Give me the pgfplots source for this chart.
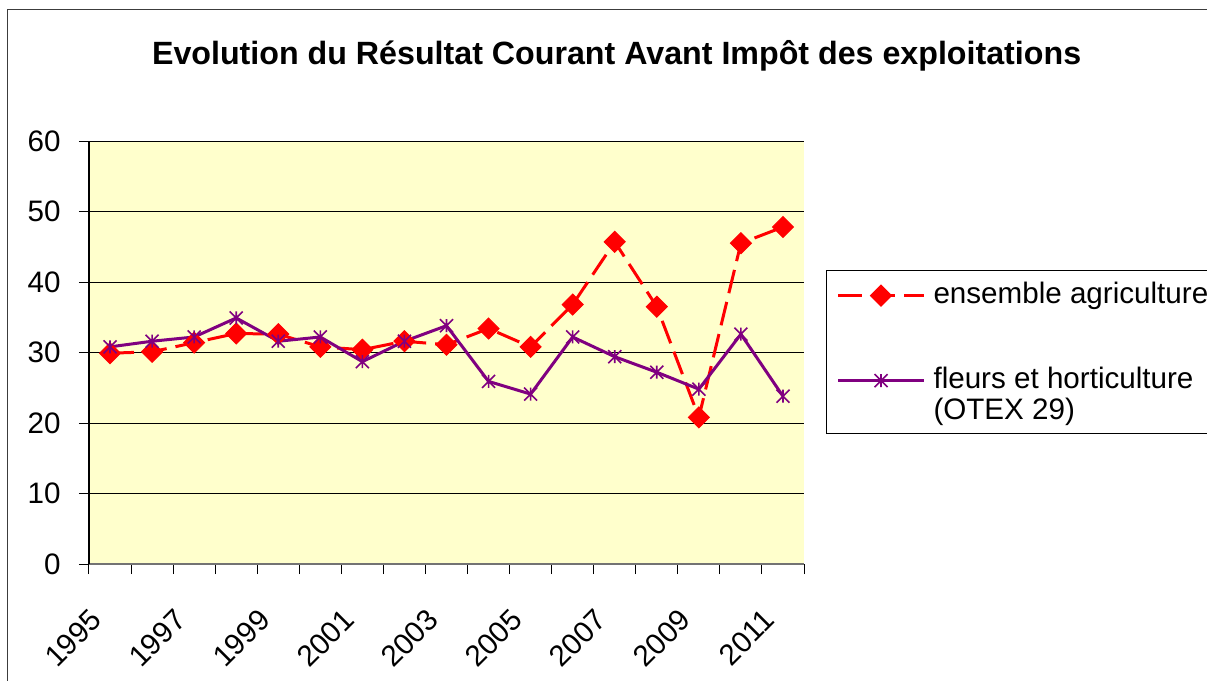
\documentclass[border=0pt]{standalone}
\usepackage{pgfplots}
\pgfplotsset{compat=1.18}
\usepackage{fontspec}
\setmainfont{Liberation Sans}
\definecolor{plotbg}{RGB}{255,255,204}
\definecolor{purp}{RGB}{128,0,128}
\definecolor{frame}{RGB}{60,60,60}
\pgfdeclareplotmark{xstar}{%
  \pgfpathmoveto{\pgfqpoint{0pt}{\pgfplotmarksize}}\pgfpathlineto{\pgfqpoint{0pt}{-\pgfplotmarksize}}%
  \pgfpathmoveto{\pgfqpoint{-\pgfplotmarksize}{\pgfplotmarksize}}\pgfpathlineto{\pgfqpoint{\pgfplotmarksize}{-\pgfplotmarksize}}%
  \pgfpathmoveto{\pgfqpoint{-\pgfplotmarksize}{-\pgfplotmarksize}}\pgfpathlineto{\pgfqpoint{\pgfplotmarksize}{\pgfplotmarksize}}%
  \pgfusepathqstroke}
\begin{document}
\begin{tikzpicture}
\useasboundingbox (0,0) rectangle (603.5pt,340.5pt);
\fill[white] (0,0) rectangle (603.5pt,340.5pt);
\draw[frame, line width=0.8pt] (3.65pt,-10pt) -- (3.65pt,335.8pt) -- (620pt,335.8pt);
\node[font=\bfseries\fontsize{16.1}{19}\selectfont, anchor=base] at (308.3pt,308.2pt) {Evolution du Résultat Courant Avant Impôt des exploitations};
\begin{axis}[
  at={(44.5pt,58.5pt)}, anchor=south west,
  scale only axis, width=357.5pt, height=211.5pt,
  xmin=-0.5, xmax=16.5, ymin=0, ymax=60,
  axis background/.style={fill=plotbg},
  axis x line*=bottom, axis y line*=left,
  x axis line style={color=black!55, line width=0.7pt},
  y axis line style={color=black, line width=0.6pt},
  tick align=outside, major tick length=5pt,
  tick style={black, line width=0.5pt},
  /pgf/number format/assume math mode=true,
  tick label style={font=\fontsize{14.8}{17}\selectfont},
  ytick={10,20,...,60}, ymajorgrids, grid style={black, line width=0.5pt},
  extra y ticks={0}, extra y tick style={grid=none},
  yticklabel style={inner sep=0pt, xshift=-9pt},
  xtick={-0.5,0.5,...,16.5}, xticklabels={},
  extra x ticks={0,2,...,16},
  extra x tick labels={1995,1997,1999,2001,2003,2005,2007,2009,2011},
  extra x tick style={major tick length=0pt, grid=none,
    xticklabel style={anchor=north east, inner sep=0pt, xshift=-10.5pt, yshift=-21.5pt, rotate=45}},
  legend style={at={(1.0308,0.695)}, anchor=north west, draw=black, line width=0.5pt, fill=white,
    inner xsep=5pt, inner ysep=3.9pt, row sep=0pt, column sep=4pt,
    font=\fontsize{14.8}{17.5}\selectfont, nodes={inner sep=0pt, text depth=, text height=}, cells={anchor=base west}},
  legend image code/.code={\draw[mark repeat=2,mark phase=2] plot coordinates {(0pt,3.85pt)(21.5pt,3.85pt)(43pt,3.85pt)};},
]
\addplot[color=red, line width=1.5pt, dash pattern=on 12pt off 4.5pt,
  mark=square*, mark size=3.7pt, mark options={solid, fill=red, draw=red, line width=0.5pt, rotate=45}]
  coordinates {(0,29.9)(1,30.1)(2,31.4)(3,32.7)(4,32.6)(5,30.8)(6,30.4)(7,31.6)(8,31.1)(9,33.4)(10,30.8)(11,36.8)(12,45.7)(13,36.5)(14,20.8)(15,45.5)(16,47.8)};
\addlegendentry{ensemble agriculture\rule[-30pt]{0pt}{42.5pt}}
\addplot[color=purp, line width=1.5pt, mark=xstar, mark size=3.25pt, mark options={solid, line width=0.8pt}]
  coordinates {(0,30.8)(1,31.6)(2,32.2)(3,34.9)(4,31.6)(5,32.2)(6,28.7)(7,31.6)(8,33.8)(9,25.9)(10,24.1)(11,32.2)(12,29.4)(13,27.2)(14,24.8)(15,32.6)(16,23.8)};
\addlegendentry{fleurs et horticulture\rule[-5pt]{0pt}{17.5pt}}
\addlegendimage{empty legend}
\addlegendentry{(OTEX 29)\rule[-2.75pt]{0pt}{12.5pt}}
\end{axis}
\end{tikzpicture}
\end{document}
